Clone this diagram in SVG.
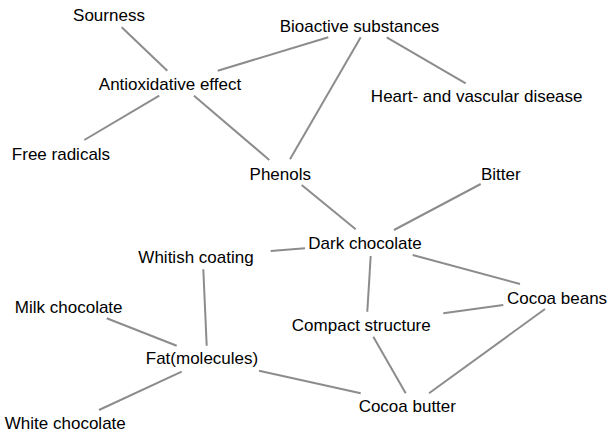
<svg xmlns="http://www.w3.org/2000/svg" width="609" height="433" viewBox="0 0 609 433">
<style>
.e line{stroke:#8c8c8c;stroke-width:2;fill:none}
text{font-family:"Liberation Sans",Arial,sans-serif;font-size:17px;fill:#000;text-anchor:middle}
</style>
<rect width="609" height="433" fill="#fff"/>
<g id="edges" class="e">
<line x1="121.7" y1="27.3" x2="167.3" y2="70.7"/>
<line x1="217.7" y1="70.7" x2="328.3" y2="37.3"/>
<line x1="159.3" y1="95.7" x2="84.3" y2="140"/>
<line x1="194" y1="95.7" x2="269.3" y2="160"/>
<line x1="360.7" y1="37.3" x2="290" y2="159.3"/>
<line x1="386.7" y1="37.3" x2="465.7" y2="83.3"/>
<line x1="301.7" y1="185" x2="355.7" y2="229.3"/>
<line x1="480.7" y1="184" x2="394" y2="230"/>
<line x1="270.7" y1="251" x2="305" y2="248.3"/>
<line x1="370.7" y1="256" x2="367.3" y2="311.7"/>
<line x1="412.7" y1="255" x2="520" y2="284"/>
<line x1="443.3" y1="313.3" x2="503.3" y2="305"/>
<line x1="373.3" y1="336.7" x2="405.7" y2="393.3"/>
<line x1="545" y1="309" x2="429" y2="393.3"/>
<line x1="259" y1="370.7" x2="360.7" y2="393.3"/>
<line x1="203.3" y1="269.3" x2="206.7" y2="345.7"/>
<line x1="106.7" y1="318.3" x2="176.7" y2="345.7"/>
<line x1="181.7" y1="371.7" x2="99" y2="410"/>
</g>
<g id="n-sourness"><text x="109" y="21">Sourness</text></g>
<g id="n-bioactive"><text x="359.5" y="31.5">Bioactive substances</text></g>
<g id="n-antiox"><text x="170" y="89.5">Antioxidative effect</text></g>
<g id="n-heart"><text x="476.7" y="101.7">Heart- and vascular disease</text></g>
<g id="n-free"><text x="61" y="160">Free radicals</text></g>
<g id="n-phenols"><text x="280.3" y="180">Phenols</text></g>
<g id="n-bitter"><text x="500.8" y="180">Bitter</text></g>
<g id="n-dark"><text x="365" y="249">Dark chocolate</text></g>
<g id="n-whitish"><text x="196" y="263.3">Whitish coating</text></g>
<g id="n-milk"><text x="68.7" y="312.7">Milk chocolate</text></g>
<g id="n-beans"><text x="557" y="304">Cocoa beans</text></g>
<g id="n-compact"><text x="361.3" y="330.7">Compact structure</text></g>
<g id="n-fat"><text x="202" y="364">Fat(molecules)</text></g>
<g id="n-butter"><text x="407.3" y="412.3">Cocoa butter</text></g>
<g id="n-white"><text x="65.3" y="429.3">White chocolate</text></g>
</svg>
